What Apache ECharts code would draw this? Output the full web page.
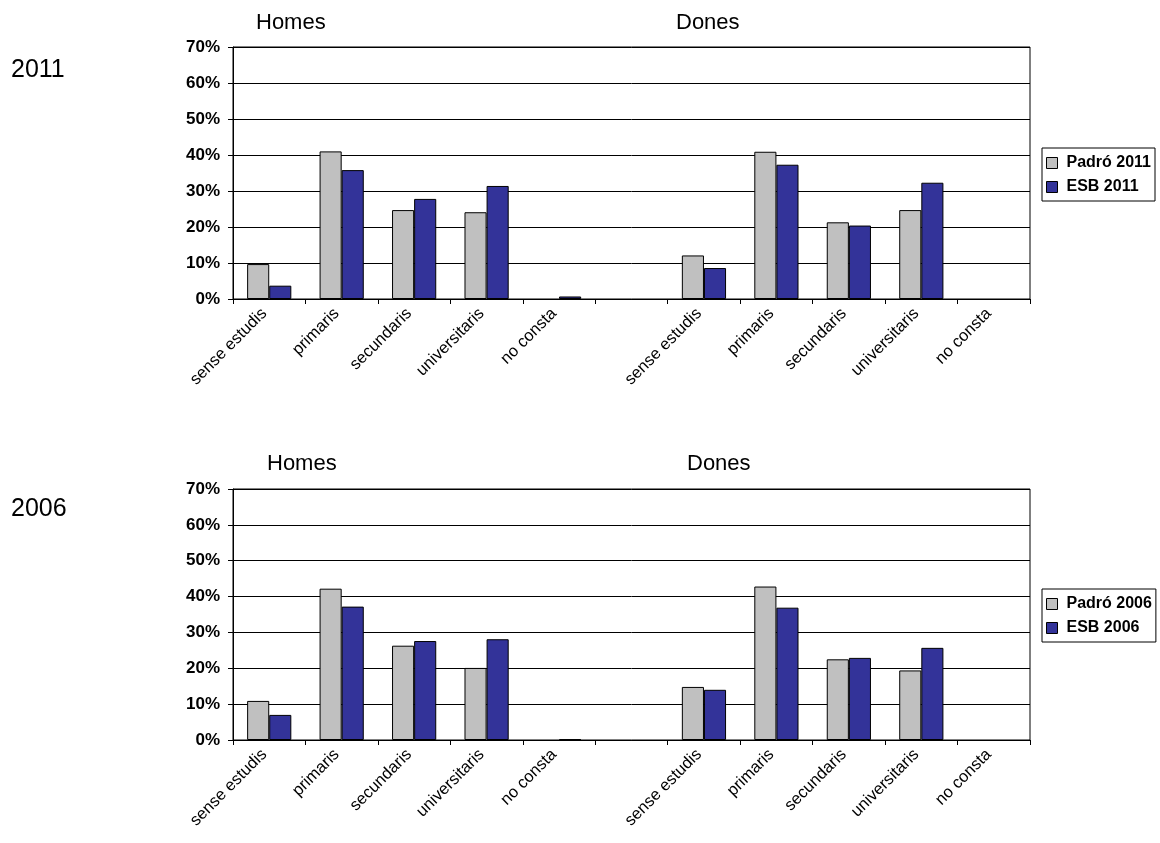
<!DOCTYPE html>
<html>
<head>
<meta charset="utf-8">
<script src="https://cdn.jsdelivr.net/npm/echarts@6/dist/echarts.min.js"></script>
<style>
  html, body { margin: 0; padding: 0; background: #fff; }
  #chart { width: 1160px; height: 843px; }
</style>
</head>
<body>
<div id="chart"></div>
<script>
// Education level categories; an empty slot separates men from women
const levels = ['sense estudis', 'primaris', 'secundaris', 'universitaris', 'no consta'];
const yTicks = ['0%', '10%', '20%', '30%', '40%', '50%', '60%', '70%'];

// 2011 (percent)
const padro2011Homes = [9.7, 41.0, 24.7, 24.1, 0];
const esb2011Homes   = [3.7, 35.8, 27.8, 31.4, 0.7];
const padro2011Dones = [12.1, 40.9, 21.3, 24.7, 0];
const esb2011Dones   = [8.6, 37.3, 20.4, 32.3, 0];

// 2006 (percent)
const padro2006Homes = [10.9, 42.2, 26.3, 20.1, 0];
const esb2006Homes   = [7.0, 37.2, 27.6, 28.1, 0.2];
const padro2006Dones = [14.8, 42.8, 22.5, 19.4, 0];
const esb2006Dones   = [14.0, 36.9, 22.9, 25.7, 0];

const categories = [...levels, '', ...levels];
// zero-height bars are left undrawn (no outline)
const join = (h, d) => [...h, null, ...d].map(v => (v === 0 ? null : v));

const FONT = '"Liberation Sans", Arial, sans-serif';
const GREY = '#C0C0C0';
const BLUE = '#333399';

const grids = [
  { left: 233, right: 130, top: 47, height: 252 },
  { left: 233, right: 130, top: 489, height: 251 }
];

function xAxis(gi) {
  return {
    type: 'category', gridIndex: gi, data: categories,
    axisLine: { lineStyle: { color: '#000', width: 1 } },
    axisTick: { show: true, length: 5, lineStyle: { color: '#000' }, interval: 0 },
    axisLabel: {
      interval: 0, rotate: 45, margin: 7, padding: [0, 7, 0, 0],
      color: '#000', fontFamily: FONT, fontSize: 16.5
    }
  };
}
function yAxis(gi) {
  return {
    type: 'value', gridIndex: gi, min: 0, max: 70, interval: 10,
    axisLine: { show: true, lineStyle: { color: '#000', width: 1 } },
    axisTick: { show: true, length: 5, lineStyle: { color: '#000' } },
    splitLine: { lineStyle: { color: '#000', width: 1 } },
    axisLabel: {
      color: '#000', fontFamily: FONT, fontSize: 17, fontWeight: 'bold', margin: 13,
      formatter: v => yTicks[Math.round(v / 10)]
    }
  };
}
function bars(name, data, color, gi) {
  return {
    type: 'bar', name, data, xAxisIndex: gi, yAxisIndex: gi,
    barGap: '0%', barCategoryGap: '39%',
    itemStyle: { color, borderColor: '#000', borderWidth: 1 },
    emphasis: { disabled: true }, animation: false
  };
}
function legend(names, top) {
  return {
    data: names, orient: 'vertical', left: 1042, top,
    borderColor: '#000', borderWidth: 1, padding: [7, 4, 6, 4],
    itemWidth: 11, itemHeight: 11, itemGap: 8, icon: 'rect',
    textStyle: { fontFamily: FONT, fontSize: 16, fontWeight: 'bold', color: '#000', padding: [0, 0, 0, 4] },
    itemStyle: { borderColor: '#000', borderWidth: 1 }
  };
}
function label(text, x, y, size) {
  return {
    type: 'text', left: x, top: y,
    style: { text, fontFamily: FONT, fontSize: size, fill: '#000' }
  };
}

const chart = echarts.init(document.getElementById('chart'), null, { renderer: 'canvas' });
chart.setOption({
  backgroundColor: '#fff',
  animation: false,
  grid: grids.map(g => Object.assign({ show: true, borderColor: '#000', borderWidth: 1, backgroundColor: 'transparent' }, g)),
  xAxis: [xAxis(0), xAxis(1)],
  yAxis: [yAxis(0), yAxis(1)],
  legend: [legend(['Padró 2011', 'ESB 2011'], 148), legend(['Padró 2006', 'ESB 2006'], 589)],
  series: [
    bars('Padró 2011', join(padro2011Homes, padro2011Dones), GREY, 0),
    bars('ESB 2011', join(esb2011Homes, esb2011Dones), BLUE, 0),
    bars('Padró 2006', join(padro2006Homes, padro2006Dones), GREY, 1),
    bars('ESB 2006', join(esb2006Homes, esb2006Dones), BLUE, 1)
  ],
  graphic: [
    label('Homes', 256, 12, 22),
    label('Dones', 676, 12, 22),
    label('2011', 11, 58, 25),
    label('Homes', 267, 453, 22),
    label('Dones', 687, 453, 22),
    label('2006', 11, 497, 25)
  ]
});
</script>
</body>
</html>
